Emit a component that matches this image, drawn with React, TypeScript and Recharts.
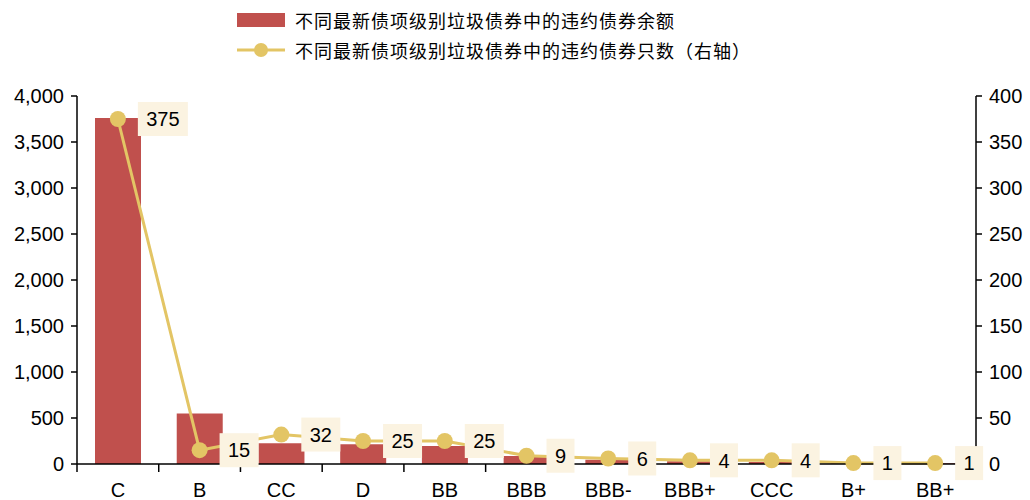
import React from 'react';
import { ComposedChart, Bar, Line, XAxis, YAxis, Legend, LabelList } from 'recharts';

const categories = ['C', 'B', 'CC', 'D', 'BB', 'BBB', 'BBB-', 'BBB+', 'CCC', 'B+', 'BB+'];
const balances = [3760, 550, 225, 215, 195, 88, 45, 30, 22, 12, 8];
const counts = [375, 15, 32, 25, 25, 9, 6, 4, 4, 1, 1];
const leftTicks = [0, 500, 1000, 1500, 2000, 2500, 3000, 3500, 4000];
const rightTicks = [0, 50, 100, 150, 200, 250, 300, 350, 400];

const barName = '不同最新债项级别垃圾债券中的违约债券余额';
const lineName = '不同最新债项级别垃圾债券中的违约债券只数（右轴）';

const BAR_COLOR = '#C0504D';
const LINE_COLOR = '#E3C565';
const LABEL_BG = '#FBF3E1';
const FONT = '"Liberation Sans", Arial, sans-serif';

const CHART_W = 1030;
const LEFT_AXIS_W = 77;
const RIGHT_AXIS_W = 54;
const TICK_MARGIN = 19;
const BAND = (CHART_W - LEFT_AXIS_W - RIGHT_AXIS_W) / categories.length;

const data = categories.map((c, i) => ({ name: c, balance: balances[i], count: counts[i] }));

const CategoryTick = (props: any) => {
  const { x, y, payload, index } = props;
  const axisY = y - TICK_MARGIN;
  const lx = x - BAND / 2;
  const rx = x + BAND / 2;
  return (
    <g>
      <line x1={lx} y1={axisY} x2={lx} y2={axisY + 8} stroke="#000" strokeWidth={1.5} />
      {index === categories.length - 1 && (
        <line x1={rx} y1={axisY} x2={rx} y2={axisY + 8} stroke="#000" strokeWidth={1.5} />
      )}
      <text x={x} y={y} dy="0.71em" textAnchor="middle" fontSize={20} fontFamily={FONT} fill="#000">
        {payload.value}
      </text>
    </g>
  );
};

const CountLabel = (props: any) => {
  const { x, y, value } = props;
  const s = String(value);
  const w = s.length * 11 + 17;
  const h = 34;
  const left = x + 20;
  return (
    <g>
      <rect x={left} y={y - h / 2} width={w} height={h} fill={LABEL_BG} />
      <text x={left + w / 2} y={y} dy="0.36em" textAnchor="middle" fontSize={20} fontFamily={FONT} fill="#000">
        {s}
      </text>
    </g>
  );
};

const LegendContent = () => (
  <div style={{ height: 96, position: 'relative', fontFamily: '"Noto Sans CJK SC", sans-serif', fontSize: 18, color: '#000' }}>
    <div style={{ position: 'absolute', left: 237, top: 6, display: 'flex', alignItems: 'center', height: 28 }}>
      <svg width={48} height={16} style={{ marginRight: 10 }}>
        <rect x={0} y={1} width={48} height={14} fill={BAR_COLOR} />
      </svg>
      <span style={{ letterSpacing: 1 }}>{barName}</span>
    </div>
    <div style={{ position: 'absolute', left: 237, top: 36, display: 'flex', alignItems: 'center', height: 28 }}>
      <svg width={48} height={16} style={{ marginRight: 10 }}>
        <line x1={0} y1={8} x2={48} y2={8} stroke={LINE_COLOR} strokeWidth={3} />
        <circle cx={24} cy={8} r={7} fill={LINE_COLOR} />
      </svg>
      <span style={{ letterSpacing: 1 }}>{lineName}</span>
    </div>
  </div>
);

export default function App() {
  return (
    <div style={{ position: 'absolute', left: 0, top: 0, width: CHART_W, height: 500, background: '#fff' }}>
      <ComposedChart width={CHART_W} height={500} data={data} margin={{ top: 0, right: 0, bottom: 6, left: 0 }}>
        <Legend verticalAlign="top" align="left" content={<LegendContent />} wrapperStyle={{ top: 0, left: 0, width: CHART_W, height: 96 }} />
        <XAxis
          dataKey="name"
          height={30}
          axisLine={{ stroke: '#000', strokeWidth: 1.5 }}
          tickLine={false}
          tickSize={0}
          tickMargin={TICK_MARGIN}
          tick={<CategoryTick />}
          interval={0}
        />
        <YAxis
          yAxisId="left"
          width={LEFT_AXIS_W}
          domain={[0, 4000]}
          ticks={leftTicks}
          tickFormatter={(v: number) => v.toLocaleString('en-US')}
          axisLine={{ stroke: '#000', strokeWidth: 1.5 }}
          tickLine={{ stroke: '#000', strokeWidth: 1.5 }}
          tickSize={6}
          tickMargin={7}
          tick={{ fill: '#000', fontSize: 20, fontFamily: FONT }}
        />
        <YAxis
          yAxisId="right"
          orientation="right"
          width={RIGHT_AXIS_W}
          domain={[0, 400]}
          ticks={rightTicks}
          axisLine={{ stroke: '#000', strokeWidth: 1.5 }}
          tickLine={{ stroke: '#000', strokeWidth: 1.5 }}
          tickSize={6}
          tickMargin={7}
          tick={{ fill: '#000', fontSize: 20, fontFamily: FONT }}
        />
        <Bar yAxisId="left" dataKey="balance" name={barName} fill={BAR_COLOR} barSize={46} isAnimationActive={false} />
        <Line
          yAxisId="right"
          dataKey="count"
          name={lineName}
          stroke={LINE_COLOR}
          strokeWidth={3}
          dot={{ r: 8, fill: LINE_COLOR, stroke: LINE_COLOR, strokeWidth: 0 }}
          activeDot={false}
          isAnimationActive={false}
        >
          <LabelList dataKey="count" content={<CountLabel />} />
        </Line>
      </ComposedChart>
    </div>
  );
}
